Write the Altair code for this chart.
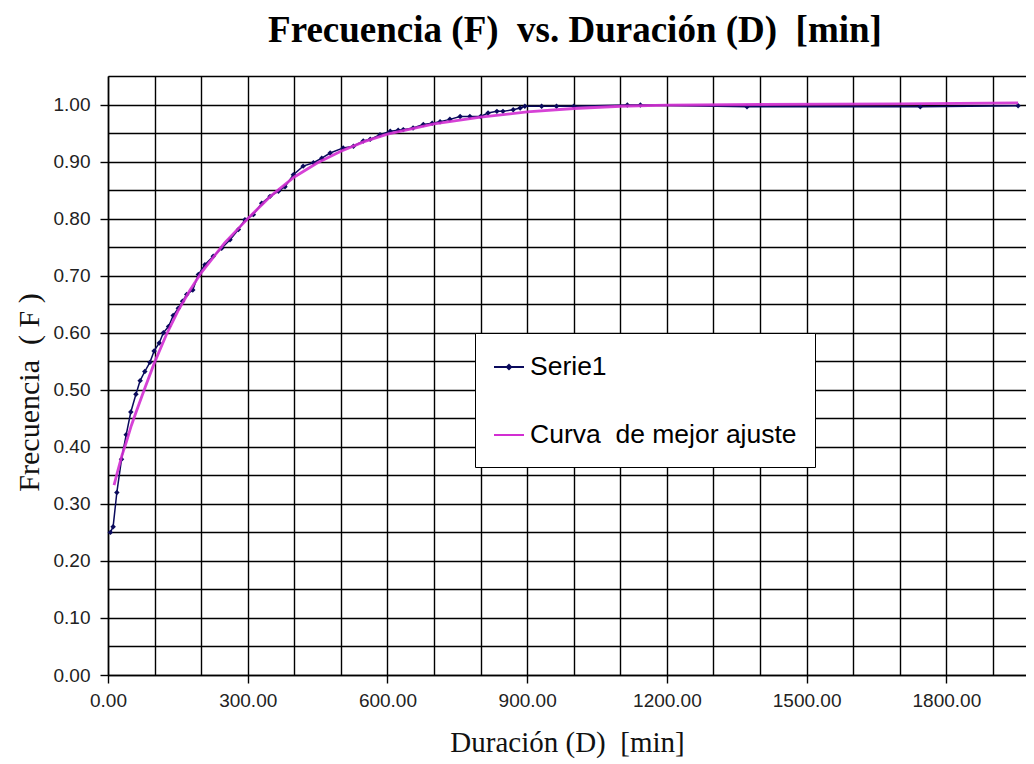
import altair as alt
import pandas as pd

# ---- data ----
serie1_x = [5, 11, 19, 29, 39, 49, 60, 69, 79, 90, 99, 110, 119, 130, 140, 151, 160, 169,
            182, 194, 208, 226, 244, 262, 280, 294, 312, 330, 348, 366, 380, 398, 419, 441,
            459, 477, 505, 527, 548, 563, 584, 606, 623, 634, 655, 677, 696, 713, 734, 756,
            777, 800, 816, 835, 848, 870, 885, 895, 931, 963, 1000, 1115, 1143, 1372, 1744, 1954]
serie1_y = [0.250, 0.260, 0.320, 0.378, 0.421, 0.461, 0.492, 0.516, 0.532, 0.548, 0.568, 0.582,
            0.600, 0.611, 0.630, 0.643, 0.655, 0.667, 0.675, 0.702, 0.719, 0.734, 0.748, 0.763,
            0.781, 0.798, 0.807, 0.827, 0.839, 0.848, 0.856, 0.877, 0.892, 0.898, 0.906, 0.915,
            0.924, 0.927, 0.936, 0.939, 0.947, 0.953, 0.955, 0.956, 0.959, 0.965, 0.967, 0.970,
            0.974, 0.979, 0.979, 0.979, 0.985, 0.988, 0.988, 0.991, 0.994, 0.997, 0.997, 0.997,
            0.997, 0.999, 0.999, 0.996, 0.996, 0.998]

fit_x = [13, 20, 30, 40, 50, 60, 80, 100, 125, 150, 175, 200, 250, 300, 350, 400, 450, 500,
         550, 600, 700, 800, 900, 1000, 1100, 1200, 1400, 1700, 1954]
fit_y = [0.333, 0.355, 0.385, 0.410, 0.437, 0.460, 0.505, 0.548, 0.596, 0.638, 0.673, 0.705,
         0.757, 0.800, 0.840, 0.873, 0.898, 0.918, 0.935, 0.948, 0.966, 0.978, 0.987, 0.993,
         0.997, 0.999, 1.000, 1.001, 1.003]

NB = "\u00a0"
series_names = ["Serie1", "Curva" + NB + NB + "de mejor ajuste"]
series_colors = ["#0a0a5c", "#d22ed2"]

x_grid_values = [0, 100, 200, 300, 400, 500, 600, 700, 800, 900, 1000, 1100, 1200, 1300,
                 1400, 1500, 1600, 1700, 1800, 1900]
y_grid_values = [0.0, 0.05, 0.1, 0.15, 0.2, 0.25, 0.3, 0.35, 0.4, 0.45, 0.5, 0.55, 0.6,
                 0.65, 0.7, 0.75, 0.8, 0.85, 0.9, 0.95, 1.0, 1.05]

df_s1 = pd.DataFrame({"D": serie1_x, "F": serie1_y, "serie": series_names[0]})
df_fit = pd.DataFrame({"D": fit_x, "F": fit_y, "serie": series_names[1]})
df_all = pd.concat([df_s1, df_fit], ignore_index=True)

x_enc = alt.X(
    "D:Q",
    scale=alt.Scale(domain=[0, 1971], nice=False, zero=False),
    axis=alt.Axis(
        values=x_grid_values,
        labelExpr="datum.value % 300 === 0 ? format(datum.value, '.2f') : ''",
        tickOpacity={"condition": {"test": "datum.value % 300 === 0", "value": 1}, "value": 0},
        tickSize=8,
        labelPadding=8,
        labelFlush=False,
        title="Duración (D)" + NB + NB + "[min]",
        titlePadding=18,
        titleFontSize=29,
    ),
)
y_enc = alt.Y(
    "F:Q",
    scale=alt.Scale(domain=[0, 1.05], nice=False, zero=False),
    axis=alt.Axis(
        values=y_grid_values,
        labelExpr="round(datum.value * 100) % 10 === 0 ? format(datum.value, '.2f') : ''",
        tickOpacity={"condition": {"test": "round(datum.value * 100) % 10 === 0", "value": 1},
                     "value": 0},
        tickSize=8,
        labelPadding=10,
        labelFlush=False,
        title="Frecuencia" + NB + NB + "(" + NB + "F" + NB + ")",
        titlePadding=9,
        titleFontSize=30,
        titleY=316,
    ),
)

diamond_line = "M-1,0H1M0,-0.14L0.14,0L0,0.14L-0.14,0Z"
line_only = "M-1,0H1"

s1_line = alt.Chart(df_s1).mark_line(strokeWidth=1.5, color=series_colors[0]).encode(
    x=x_enc, y=y_enc, order="D:Q",
)
s1_points = alt.Chart(df_s1).mark_point(
    shape="diamond", filled=True, size=30, opacity=1, color=series_colors[0]
).encode(x=x_enc, y=y_enc)
fit_line = alt.Chart(df_fit).mark_line(strokeWidth=2.8, opacity=0.9, color=series_colors[1]).encode(
    x=x_enc, y=y_enc, order="D:Q",
)

legend_props = dict(orient="none", legendX=367, legendY=257, title=None,
                    symbolSize=900, symbolStrokeWidth=2)

# legend-only layer (no visible marks: everything filtered out, scales have explicit domains)
legend_layer = (
    alt.Chart(df_all)
    .transform_filter("false")
    .mark_point(filled=False, strokeWidth=2)
    .encode(
        x=x_enc,
        y=y_enc,
        color=alt.Color(
            "serie:N",
            scale=alt.Scale(domain=series_names, range=series_colors),
            legend=alt.Legend(**legend_props),
        ),
        shape=alt.Shape(
            "serie:N",
            scale=alt.Scale(domain=series_names, range=[diamond_line, line_only]),
            legend=alt.Legend(**legend_props),
        ),
    )
)

chart = (
    alt.layer(s1_line, s1_points, fit_line, legend_layer)
    .properties(
        width=918,
        height=599,
        background="white",
        autosize=alt.AutoSizeParams(type="none"),
        padding={"left": 100, "top": 68, "right": 0, "bottom": 86},
        title=alt.TitleParams(
            "Frecuencia (F)" + NB + NB + "vs. Duración (D)" + NB + NB + "[min]",
            font="Liberation Serif",
            fontSize=37,
            fontWeight="bold",
            color="black",
            anchor="middle",
            offset=26,
            dx=8,
        ),
    )
    .configure_view(stroke=None)
    .configure_axis(
        grid=True,
        gridColor="black",
        gridWidth=1.4,
        gridOpacity=1,
        domainColor="black",
        domainWidth=1.5,
        tickColor="black",
        tickWidth=1.4,
        labelFont="Liberation Sans",
        labelFontSize=19,
        labelColor="#222222",
        titleFont="Liberation Serif",
        titleFontWeight="normal",
        titleColor="#111111",
    )
    .configure_legend(
        labelFont="Liberation Sans",
        labelFontSize=26.5,
        labelColor="black",
        labelOffset=5,
        labelLimit=0,
        padding=18,
        rowPadding=38,
        fillColor="white",
        strokeColor="black",
        symbolOpacity=1,
    )
)

chart.save("out.html", embed_options={"renderer": "svg", "actions": False})
